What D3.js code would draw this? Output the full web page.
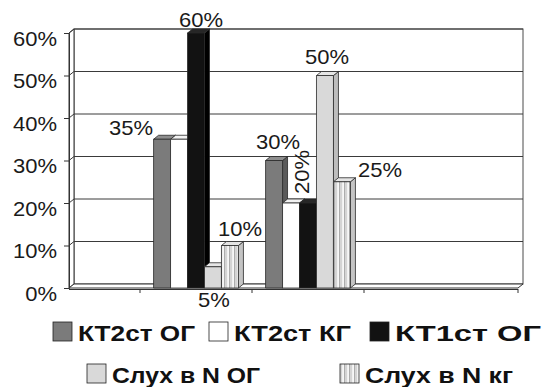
<!DOCTYPE html>
<html>
<head>
<meta charset="utf-8">
<script src="https://cdn.jsdelivr.net/npm/d3@7"></script>
<style>
  body { margin: 0; background: #fff; }
  svg { display: block; }
</style>
</head>
<body>
<svg id="chart" width="553" height="387"></svg>
<script>
// ---- data ----
const categories = ["1", "2"];
const seriesNames = ["КТ2ст ОГ", "КТ2ст КГ", "КТ1ст ОГ", "Слух в N ОГ", "Слух в N кг"];
const kt2OG = [35, 30];
const kt2KG = [35, 20];
const kt1OG = [60, 20];
const hearingOG = [5, 50];
const hearingKG = [10, 25];
const yTicks = [0, 10, 20, 30, 40, 50, 60];

const seriesValues = [kt2OG, kt2KG, kt1OG, hearingOG, hearingKG];

// ---- layout ----
const FONT = "'Liberation Sans', Arial, Helvetica, sans-serif";
const DX = 5, DY = -4;               // 3D depth offset
const floorX0 = 69, floorX1 = 518;   // front edge of the floor
const XSTRETCH = 1.1;                // wide glyph proportion of the numeric labels

// label nudges relative to the top-centre of each bar (null = no label)
const labelNudge = [
  [{dx: -31, dy: -4}, {dx: 4, dy: -12}],
  [null, {dx: 11, dy: -31, rotate: true}],
  [{dx: 5, dy: -6}, null],
  [{dx: 1, dy: 40}, {dx: 2, dy: -12}],
  [{dx: 10, dy: -10}, {dx: 38, dy: -5}]
];

const faceColours = [
  {front: "#7b7b7b", top: "#8e8e8e", side: "#5a5a5a"},
  {front: "#ffffff", top: "#f2f2f2", side: "#e0e0e0"},
  {front: "#121212", top: "#262626", side: "#000000"},
  {front: "#d9d9d9", top: "#e6e6e6", side: "#bdbdbd"},
  {front: "url(#stripes)", top: "#e4e4e4", side: "#c4c4c4"}
];

const svg = d3.select("#chart");

// vertical stripe fill
const defs = svg.append("defs");
const pat = defs.append("pattern")
  .attr("id", "stripes").attr("patternUnits", "userSpaceOnUse")
  .attr("width", 5).attr("height", 10);
pat.append("rect").attr("width", 5).attr("height", 10).attr("fill", "#f7f7f7");
pat.append("rect").attr("x", 0).attr("width", 2.2).attr("height", 10).attr("fill", "#d4d4d4");
pat.append("rect").attr("x", 4.2).attr("width", 0.8).attr("height", 10).attr("fill", "#9a9a9a");

const y = d3.scaleLinear().domain([0, 60]).range([288, 33]);
const x = d3.scaleBand().domain(categories).range([140, 364]);
const xs = d3.scaleBand().domain(seriesNames).range([0, x.bandwidth()]).paddingOuter(0.8);

const yTop = y(60), yBase = y(0);

// back wall
svg.append("rect")
  .attr("x", floorX0 + DX).attr("y", yTop + DY)
  .attr("width", floorX1 - floorX0).attr("height", yBase - yTop)
  .attr("fill", "#fff").attr("stroke", "#4a4a4a").attr("stroke-width", 1);

// left side wall
svg.append("polygon")
  .attr("points", [[floorX0, yTop], [floorX0 + DX, yTop + DY], [floorX0 + DX, yBase + DY], [floorX0, yBase]].join(" "))
  .attr("fill", "#fff").attr("stroke", "#333").attr("stroke-width", 1);

// gridlines on the walls
const grid = svg.append("g").attr("stroke", "#3a3a3a").attr("stroke-width", 1);
yTicks.filter(v => v > 0).forEach(v => {
  grid.append("line")
    .attr("x1", floorX0 + DX).attr("x2", floorX1 + DX)
    .attr("y1", y(v) + DY).attr("y2", y(v) + DY);
  grid.append("line")
    .attr("x1", floorX0).attr("x2", floorX0 + DX)
    .attr("y1", y(v)).attr("y2", y(v) + DY);
});

// floor
svg.append("polygon")
  .attr("points", [[floorX0, yBase], [floorX0 + DX, yBase + DY], [floorX1 + DX, yBase + DY], [floorX1, yBase]].join(" "))
  .attr("fill", "#fff").attr("stroke", "#333").attr("stroke-width", 1);
svg.append("line")
  .attr("x1", floorX0).attr("x2", floorX1).attr("y1", yBase + 1.5).attr("y2", yBase + 1.5)
  .attr("stroke", "#333").attr("stroke-width", 1);

// y axis
const yAxis = svg.append("g")
  .attr("transform", `translate(${floorX0},0)`)
  .call(d3.axisLeft(y).tickValues(yTicks).tickFormat(d => d + "%").tickSize(5).tickPadding(0));
yAxis.select(".domain").attr("stroke", "#333");
yAxis.selectAll(".tick line").attr("stroke", "#333");
yAxis.selectAll(".tick text")
  .attr("x", null)
  .attr("transform", `translate(-12,0) scale(${XSTRETCH},1)`)
  .attr("font-family", FONT).attr("font-size", 20).attr("fill", "#1a1a1a")
  .attr("dy", "0.62em");

// category boundary ticks on the floor
const xTicks = categories.map(c => x(c)).concat([x(categories[categories.length - 1]) + x.bandwidth(), floorX1]);
svg.append("g").selectAll("line").data(xTicks).join("line")
  .attr("x1", d => d).attr("x2", d => d)
  .attr("y1", yBase + 1).attr("y2", yBase + 5)
  .attr("stroke", "#333");

// 3D bars, drawn left to right so each front face covers the previous side face
const bars = svg.append("g");
categories.forEach((cat, ci) => {
  seriesNames.forEach((s, si) => {
    const v = seriesValues[si][ci];
    const x0 = x(cat) + xs(s), x1 = x0 + xs.bandwidth();
    const yt = y(v), yb = y(0);
    const c = faceColours[si];
    const g = bars.append("g").attr("stroke", "#2a2a2a").attr("stroke-width", 0.8).attr("stroke-linejoin", "round");
    g.append("polygon")
      .attr("points", [[x1, yt], [x1 + DX, yt + DY], [x1 + DX, yb + DY], [x1, yb]].join(" "))
      .attr("fill", c.side);
    g.append("polygon")
      .attr("points", [[x0, yt], [x0 + DX, yt + DY], [x1 + DX, yt + DY], [x1, yt]].join(" "))
      .attr("fill", c.top);
    g.append("rect")
      .attr("x", x0).attr("y", yt).attr("width", x1 - x0).attr("height", yb - yt)
      .attr("fill", c.front);
  });
});

// value labels
const labels = svg.append("g").attr("font-family", FONT).attr("font-size", 20).attr("fill", "#1a1a1a");
categories.forEach((cat, ci) => {
  seriesNames.forEach((s, si) => {
    const n = labelNudge[si][ci];
    if (!n) return;
    const v = seriesValues[si][ci];
    const cx = x(cat) + xs(s) + xs.bandwidth() / 2 + n.dx;
    const cy = y(v) + n.dy;
    const t = labels.append("text").attr("text-anchor", "middle").text(v + "%");
    if (n.rotate) {
      t.attr("transform", `translate(${cx},${cy}) rotate(-90) scale(${XSTRETCH},1)`).attr("dy", "0.36em");
    } else {
      t.attr("transform", `translate(${cx},${cy}) scale(${XSTRETCH},1)`);
    }
  });
});

// legend: swatch position and drawn text width of each entry
const legendPos = [
  {x: 53, y: 322, w: 117}, {x: 209, y: 322, w: 117}, {x: 370, y: 322, w: 146},
  {x: 87, y: 364, w: 148}, {x: 340, y: 364, w: 148}
];
const legend = svg.append("g");
seriesNames.forEach((s, si) => {
  const p = legendPos[si];
  legend.append("rect")
    .attr("x", p.x).attr("y", p.y).attr("width", 19).attr("height", 19)
    .attr("fill", faceColours[si].front).attr("stroke", "#222").attr("stroke-width", 0.8);
  legend.append("text")
    .attr("x", p.x + 25).attr("y", p.y + 19)
    .attr("font-family", FONT).attr("font-weight", "bold").attr("font-size", 22)
    .attr("textLength", p.w).attr("lengthAdjust", "spacingAndGlyphs")
    .attr("fill", "#111").text(s);
});
</script>
</body>
</html>
